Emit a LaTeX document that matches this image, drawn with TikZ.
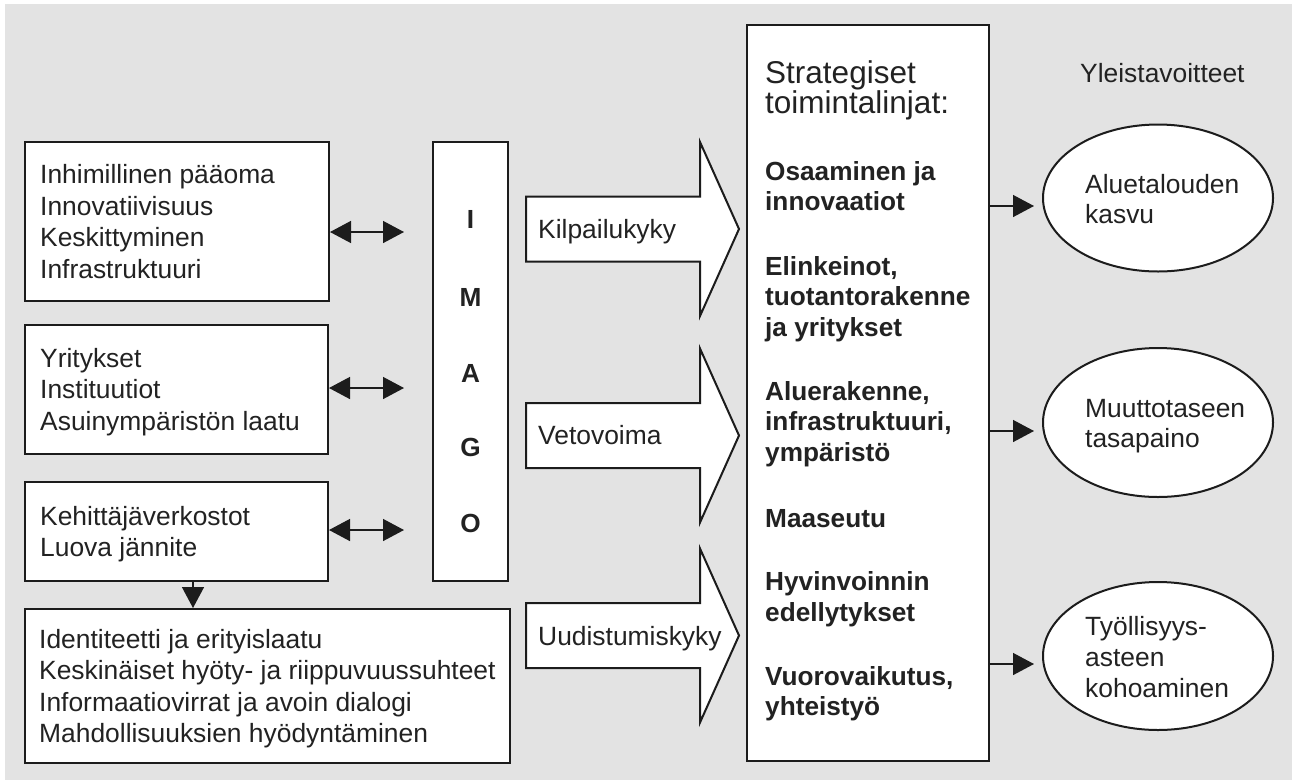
\documentclass[tikz,border=0pt]{standalone}
\usepackage{fontspec}
\setmainfont{Liberation Sans}
\usetikzlibrary{arrows.meta,shapes.geometric}
\definecolor{bggray}{HTML}{E3E3E3}
\definecolor{ink}{HTML}{1C1C1C}
\definecolor{txtc}{HTML}{222222}
\begin{document}
\begin{tikzpicture}[x=1pt,y=-1pt,
  box/.style={draw=ink, line width=2pt, fill=white, rectangle, inner sep=0pt},
  ell/.style={draw=ink, line width=2pt, fill=white, ellipse, inner sep=0pt, minimum width=230pt},
  txt/.style={anchor=base west, inner sep=0pt, text=txtc, font=\fontsize{26.4}{30}\selectfont},
  btxt/.style={anchor=base west, inner sep=0pt, text=txtc, font=\fontsize{26.2}{30}\selectfont\bfseries},
  htxt/.style={anchor=base west, inner sep=0pt, text=txtc, font=\fontsize{31.5}{30}\selectfont},
  letter/.style={anchor=center, inner sep=0pt, text=txtc, font=\fontsize{26.2}{30}\selectfont\bfseries},
  conn/.style={draw=ink, line width=1.4pt, -{Triangle[length=21pt,width=22pt]}},
  dconn/.style={draw=ink, line width=1.4pt, {Triangle[length=21pt,width=22pt]}-{Triangle[length=21pt,width=22pt]}},
  bigarrow/.style={draw=ink, line width=2pt, fill=white, line join=miter},
  bigarr/.pic={\path[bigarrow] (0,-32.5) -- (174,-32.5) -- (174,-87) -- (213,0) -- (174,87) -- (174,32.5) -- (0,32.5) -- cycle;}]
\useasboundingbox (0,0) rectangle (1292,780);
\fill[bggray] (5,4) rectangle (1292,780);

% left boxes
\node[box, minimum width=304pt, minimum height=159pt] (b1) at (177,221.5) {};
\node[box, minimum width=303pt, minimum height=129pt] (b2) at (176.5,389.5) {};
\node[box, minimum width=303pt, minimum height=99pt] (b3) at (176.5,531.5) {};
\node[box, minimum width=485pt, minimum height=154pt] (b4) at (267.5,686) {};
\node[box, minimum width=75pt, minimum height=439pt] (im) at (470.5,361.5) {};
\node[box, minimum width=242pt, minimum height=736pt] (rb) at (868,393) {};

% box texts
\foreach \t [count=\i] in {Inhimillinen pääoma, Innovatiivisuus, Keskittyminen, Infrastruktuuri}
  \node[txt] (ta\i) at (40,{183.7+31.5*(\i-1)}) {\t};
\foreach \t [count=\i] in {Yritykset, Instituutiot, Asuinympäristön laatu}
  \node[txt] (tb\i) at (40,{367.4+31.5*(\i-1)}) {\t};
\foreach \t [count=\i] in {Kehittäjäverkostot, Luova jännite}
  \node[txt] (tc\i) at (40,{525.2+31.5*(\i-1)}) {\t};
\foreach \t [count=\i] in {Identiteetti ja erityislaatu, Keskinäiset hyöty- ja riippuvuussuhteet, Informaatiovirrat ja avoin dialogi, Mahdollisuuksien hyödyntäminen}
  \node[txt] (td\i) at (39,{648.2+31.5*(\i-1)}) {\t};

% IMAGO letters
\foreach \t/\y [count=\i] in {I/219, M/297, A/373, G/447, O/523}
  \node[letter] (il\i) at (470.5,\y) {\t};

% double arrows and down arrow
\coordinate (d1) at (404,232);
\coordinate (d2) at (404,388);
\coordinate (d3) at (404,530);
\draw[dconn] (b1.east |- d1) -- (d1);
\draw[dconn] (b2.east |- d2) -- (d2);
\draw[dconn] (b3.east |- d3) -- (d3);
\coordinate (dn) at (193,0);
\draw[conn] (b3.south -| dn) -- (b4.north -| dn);

% big arrows
\pic (ka) at (526,229) {bigarr};
\pic (va) at (526,435.5) {bigarr};
\pic (ua) at (526,635.5) {bigarr};
\node[txt] (kl) at (538,238) {Kilpailukyky};
\node[txt] (vl) at (538,444.5) {Vetovoima};
\node[txt] (ul) at (538,645) {Uudistumiskyky};

% right box texts
\node[htxt] (h1) at (765,83) {Strategiset};
\node[htxt] (h2) at (765,113) {toimintalinjat:};
\foreach \y/\t [count=\i] in {180/{Osaaminen ja}, 210/{innovaatiot}, 275/{Elinkeinot,}, 305/{tuotantorakenne}, 336/{ja yritykset}, 400/{Aluerakenne,}, 430/{infrastruktuuri,}, 461/{ympäristö}, 527/{Maaseutu}, 590/{Hyvinvoinnin}, 621/{edellytykset}, 685/{Vuorovaikutus,}, 715/{yhteistyö}}
  \node[btxt] (s\i) at (765,\y) {\t};

% goals
\node[txt] (yl) at (1080,82) {Yleistavoitteet};
\node[ell, minimum height=147pt] (e1) at (1158,198) {};
\node[ell, minimum height=149pt] (e2) at (1158,422.5) {};
\node[ell, minimum height=148pt] (e3) at (1158,656) {};
\node[txt] (ea1) at (1085,193) {Aluetalouden};
\node[txt] (ea2) at (1085,223) {kasvu};
\node[txt] (eb1) at (1085,417) {Muuttotaseen};
\node[txt] (eb2) at (1085,447) {tasapaino};
\node[txt] (ec1) at (1085,635) {Työllisyys-};
\node[txt] (ec2) at (1085,666) {asteen};
\node[txt] (ec3) at (1085,697) {kohoaminen};

\coordinate (g1) at (1034,206);
\coordinate (g2) at (1034,431);
\coordinate (g3) at (1034,664);
\draw[conn] (rb.east |- g1) -- (g1);
\draw[conn] (rb.east |- g2) -- (g2);
\draw[conn] (rb.east |- g3) -- (g3);
\end{tikzpicture}
\end{document}
